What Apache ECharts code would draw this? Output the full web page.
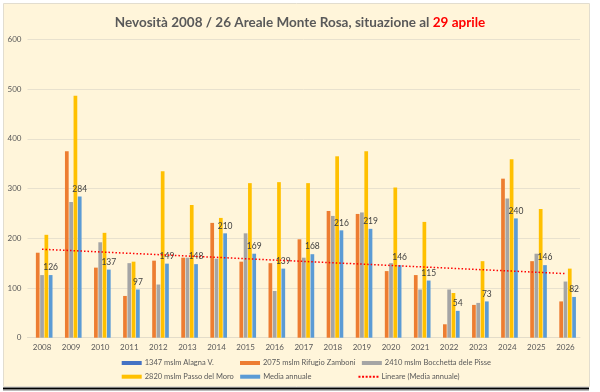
<!DOCTYPE html>
<html><head><meta charset="utf-8">
<script src="https://cdn.jsdelivr.net/npm/echarts@6/dist/echarts.min.js"></script>
<style>html,body{margin:0;padding:0;background:#fff}#c{width:600px;height:392px}</style>
</head><body><div id="c"></div>
<script>
const years = ['2008','2009','2010','2011','2012','2013','2014','2015','2016','2017','2018','2019','2020','2021','2022','2023','2024','2025','2026'];
const alagna = [null,null,null,null,null,null,null,null,null,null,null,null,null,null,null,null,null,null,null];
const zamboni = [171,375,141,84,155,161,231,153,150,198,255,249,134,126,27,66,320,154,73];
const bocchetta = [126,273,192,150,107,161,159,210,94,161,245,252,150,97,97,70,280,169,113];
const moro = [207,487,211,153,335,267,241,311,313,311,365,375,302,233,90,154,359,259,139];
const media = [126,284,137,97,149,148,210,169,139,168,216,219,146,115,54,73,240,146,82];
const trendStart = 178, trendEnd = 129;
const yTicks = [0,100,200,300,400,500,600];

const names = ['1347 mslm Alagna V.','2075 mslm Rifugio Zamboni','2410 mslm Bocchetta dele Pisse','2820 mslm Passo del Moro','Media annuale','Lineare (Media annuale)'];
const colors = ['#4472C4','#ED7D31','#A5A5A5','#FFC000','#5B9BD5','#FF0000'];
const trend = years.map((y,i)=> i===0 ? trendStart : (i===years.length-1 ? trendEnd : null));

const chart = echarts.init(document.getElementById('c'), null, {renderer:'canvas'});
const ff = 'Lato, "Liberation Sans", sans-serif';
function bar(i, data, extra){
  return Object.assign({name:names[i], type:'bar', data:data, barGap:'16%', barCategoryGap:'28%',
    itemStyle:{color:colors[i]}, z:2}, extra||{});
}
const dotIcon = 'path://M0,0h2v2h-2zM3.6,0h2v2h-2zM7.2,0h2v2h-2zM10.8,0h2v2h-2zM14.4,0h2v2h-2zM18,0h2v2h-2z';
function leg(items, top){
  return {orient:'horizontal', itemWidth:20, itemHeight:4, icon:'rect', itemGap:6.3,
    textStyle:{fontSize:7.5, color:'#595959', fontFamily:ff, lineHeight:10, width:89, overflow:'none', padding:[0,0,0,-2]},
    left:121.7, top:top, padding:0, selectedMode:false, data:items};
}
chart.setOption({
  animation:false,
  backgroundColor:'#ffffff',
  graphic:[
    {type:'rect', shape:{x:3.5,y:3.5,width:586,height:383}, style:{fill:'#FFF5DA', stroke:'#E2DDCF', lineWidth:1}, z:-10},
    {type:'rect', shape:{x:3,y:387.5,width:586,height:2}, style:{fill:'#000'}, z:-9},
    {type:'rect', shape:{x:3,y:390,width:586,height:1}, style:{fill:'#bbb'}, z:-9}
  ],
  title:{
    text:'{a|Nevosità 2008 / 26 Areale Monte Rosa, situazione al }{b|29 aprile}',
    left:'center', top:11,
    textStyle:{rich:{
      a:{fontSize:13.5, fontWeight:'bold', color:'#595959', fontFamily:ff},
      b:{fontSize:13.5, fontWeight:'bold', color:'#FF0000', fontFamily:ff}
    }}
  },
  legend:[
    leg([names[0], names[1], names[2]], 358),
    leg([names[3], names[4], {name:names[5], icon:dotIcon, itemHeight:2}], 371.7)
  ],
  grid:{left:27.5, right:20, top:39.5, bottom:54.3},
  xAxis:{type:'category', data:years,
    axisLine:{show:true, lineStyle:{color:'#E3DCC9'}}, axisTick:{show:false},
    axisLabel:{fontSize:8, color:'#595959', fontFamily:ff, margin:6}},
  yAxis:{type:'value', min:yTicks[0], max:yTicks[yTicks.length-1], interval:100,
    axisLine:{show:false}, axisTick:{show:false},
    axisLabel:{fontSize:8, color:'#595959', fontFamily:ff, margin:6},
    splitLine:{lineStyle:{color:'#E8E1CE', width:1}}},
  series:[
    bar(0, alagna),
    bar(1, zamboni),
    bar(2, bocchetta),
    bar(3, moro),
    bar(4, media, {label:{show:true, position:'top', distance:3, fontSize:8.5, color:'#404040', fontFamily:ff}}),
    {name:names[5], type:'line', data:trend, connectNulls:true, symbol:'none', z:5,
      lineStyle:{color:'#FF0000', width:1.5, type:[1.5,2]}, itemStyle:{color:'#FF0000'}}
  ]
});
</script></body></html>
